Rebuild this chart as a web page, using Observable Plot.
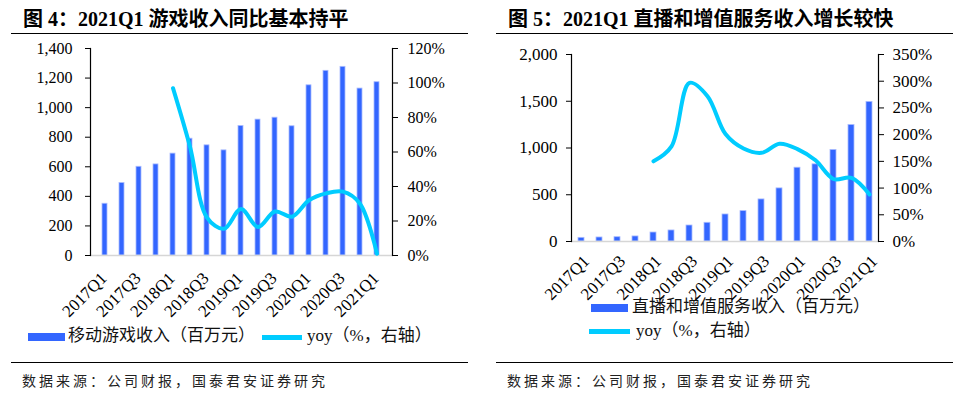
<!DOCTYPE html>
<html><head><meta charset="utf-8">
<script src="https://cdn.jsdelivr.net/npm/d3@7"></script>
<script src="https://cdn.jsdelivr.net/npm/@observablehq/plot@0.6"></script>
<style>
html,body{margin:0;padding:0;background:#fff;}
body{width:966px;height:401px;position:relative;overflow:hidden;font-family:"Liberation Serif","Noto Sans CJK SC",serif;color:#000;}
.abs{position:absolute;}
.title{font-weight:bold;font-size:20px;line-height:20px;white-space:nowrap;}
.rule{height:0;border-top:1.6px solid #000;}
.src{font-family:"Noto Sans CJK SC",sans-serif;font-size:14px;line-height:16px;letter-spacing:3px;color:#222;white-space:nowrap;}
.leg{font-size:17px;line-height:18px;white-space:nowrap;color:#111;}
.sw{position:absolute;}
svg{overflow:visible;}
</style></head><body>
<script>
// ---- data ----
const quarters = ["2017Q1","2017Q2","2017Q3","2017Q4","2018Q1","2018Q2","2018Q3","2018Q4",
  "2019Q1","2019Q2","2019Q3","2019Q4","2020Q1","2020Q2","2020Q3","2020Q4","2021Q1"];
const tickLabels = ["2017Q1","2017Q3","2018Q1","2018Q3","2019Q1","2019Q3","2020Q1","2020Q3","2021Q1"];
// Figure 4: mobile game revenue (RMB mn) and yoy (%)
const gameRevenue = [350,490,600,616,689,790,745,711,876,919,932,874,1151,1249,1276,1129,1172];
const gameYoy = [null,null,null,null,97,63,22,15.5,27,16.5,25.5,22.5,32,36,37,30,1];
// Figure 5: live streaming & VAS revenue (RMB mn) and yoy (%)
const liveRevenue = [39,43,46,54,96,118,171,200,289,325,450,568,789,825,979,1246,1493];
const liveYoy = [null,null,null,null,150,178,297,272,201,174,166,183,173,152,117,119,88];

const leftTicks1 = [0,200,400,600,800,1000,1200,1400];
const rightTicks1 = [0,20,40,60,80,100,120];
const leftTicks2 = [0,500,1000,1500,2000];
const rightTicks2 = [0,50,100,150,200,250,300,350];

const BAR = "#3366FF", LINE = "#00CCFF";

function el(tag, cls, css, text) {
  const e = document.createElement(tag);
  if (cls) e.className = cls;
  Object.assign(e.style, css);
  if (text != null) e.textContent = text;
  document.body.appendChild(e);
  return e;
}

function panel(o) {
  const data = quarters.map((q, i) => ({q, v: o.rev[i], r: o.yoy[i]}));
  const common = {
    width: o.w, height: o.h,
    marginTop: o.mt, marginBottom: o.mb, marginLeft: o.ml, marginRight: o.mr,
    style: {fontFamily: "Liberation Serif", fontSize: o.fs + "px", color: "#000", background: "transparent", overflow: "visible"}
  };
  const xs = {type: "band", domain: quarters, paddingInner: 0.68, paddingOuter: 0.34, axis: null, label: null};
  const bars = Plot.plot({
    ...common,
    x: xs,
    y: {domain: [0, o.lMax], axis: null, label: null},
    marks: [
      Plot.barY(data, {x: "q", y: "v", fill: BAR, stroke: "#a9bbff", strokeWidth: 0.8}),
      Plot.ruleY([0], {stroke: "#d6d6d6", strokeWidth: 1.5}),
      Plot.frame({anchor: "left", stroke: "#000", strokeWidth: 1.2}),
      Plot.axisX({ticks: tickLabels, tickRotate: -45, tickSize: 0, tickPadding: o.xpad, fontSize: o.xfs, dx: o.xdx, label: null}),
      Plot.axisY({ticks: o.lTicks, tickFormat: d3.format(","), tickSize: 5, tickPadding: o.lpad, anchor: "left", fontSize: o.fs, label: null})
    ]
  });
  const lines = Plot.plot({
    ...common,
    x: xs,
    y: {domain: [0, o.rMax], axis: null, label: null},
    marks: [
      Plot.line(data.filter(d => d.r != null), {x: "q", y: "r", stroke: LINE, strokeWidth: 4, curve: "catmull-rom"}),
      Plot.frame({anchor: "right", stroke: "#000", strokeWidth: 1.2}),
      Plot.axisY({ticks: o.rTicks, tickFormat: d => d + "%", tickSize: 5, tickPadding: o.rpad, anchor: "right", fontSize: o.fs, label: null})
    ]
  });
  for (const svg of [bars, lines]) {
    Object.assign(svg.style, {position: "absolute", left: o.x + "px", top: o.y + "px"});
    document.body.appendChild(svg);
  }
}

// ---------- left panel ----------
el("div", "abs title", {left: "23px", top: "9px"}, "图 4：2021Q1 游戏收入同比基本持平");
el("div", "abs rule", {left: "11px", top: "33px", width: "457px"});
panel({x: 0, y: 40, w: 480, h: 290, mt: 8, mb: 75, ml: 90, mr: 88,
  rev: gameRevenue, yoy: gameYoy, lMax: 1400, rMax: 120, lTicks: leftTicks1, rTicks: rightTicks1,
  fs: 16, xfs: 17, xpad: 20, xdx: -1, lpad: 13, rpad: 10});
el("div", "sw", {left: "28px", top: "333px", width: "37px", height: "8px", background: BAR});
el("div", "abs leg", {left: "68px", top: "327px"}, "移动游戏收入（百万元）");
el("div", "sw", {left: "262px", top: "335px", width: "40px", height: "5px", background: LINE});
el("div", "abs leg", {left: "307px", top: "327px"}, "yoy（%，右轴）");
el("div", "abs rule", {left: "11px", top: "362px", width: "457px"});
el("div", "abs src", {left: "22px", top: "372px"}, "数据来源：公司财报，国泰君安证券研究");

// ---------- right panel ----------
el("div", "abs title", {left: "508px", top: "9px"}, "图 5：2021Q1 直播和增值服务收入增长较快");
el("div", "abs rule", {left: "496px", top: "33px", width: "457px"});
panel({x: 480, y: 40, w: 486, h: 280, mt: 14, mb: 79, ml: 91, mr: 88,
  rev: liveRevenue, yoy: liveYoy, lMax: 2000, rMax: 350, lTicks: leftTicks2, rTicks: rightTicks2,
  fs: 17, xfs: 17, xpad: 17, xdx: 5, lpad: 9, rpad: 9});
el("div", "sw", {left: "591px", top: "304px", width: "37px", height: "8px", background: BAR});
el("div", "abs leg", {left: "632px", top: "298px"}, "直播和增值服务收入（百万元）");
el("div", "sw", {left: "589px", top: "329px", width: "41px", height: "5px", background: LINE});
el("div", "abs leg", {left: "636px", top: "322px"}, "yoy（%，右轴）");
el("div", "abs rule", {left: "496px", top: "362px", width: "457px"});
el("div", "abs src", {left: "507px", top: "372px"}, "数据来源：公司财报，国泰君安证券研究");
</script>
</body></html>
